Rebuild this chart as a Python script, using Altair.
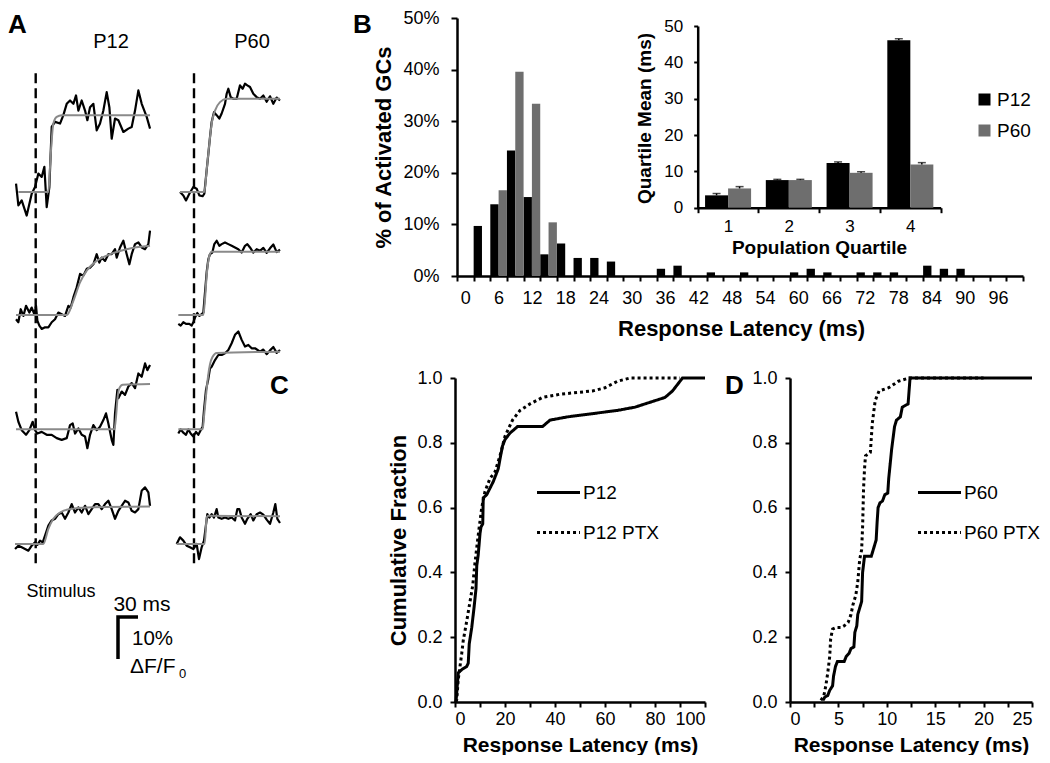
import altair as alt
import pandas as pd

FONT = "Liberation Sans"

# ---------------- Panel A: example traces (t = ms after stimulus, v = % dF/F0 above baseline) ----------------
p12_r1_t = [-29.5,-26,-21,-13.5,-6,-1,4,9,13,16.5,20.5,24,29,36.5,41.5,46.5,51.5,56.5,60.5,64,69,74,77.5,81.5,86.5,91.5,96.5,101.5,106.5,110.5,114,119,124,131.5,139,144,149,154,159,166.5,171.5]
p12_r1_v = [2.0,-3.2,-2.0,-5.6,-0.4,1.2,4.4,3.6,6.0,-3.6,1.2,15.5,16.7,16.3,18.3,21.0,21.8,21.0,23.0,19.4,21.8,19.4,17.1,20.2,21.0,14.7,16.3,19.4,23.8,20.2,12.7,17.5,17.1,14.3,15.1,15.5,19.4,24.2,21.0,17.9,15.1]
p12_r1_fit_t = [-26,19,21.5,24,26.5,31.5,39,171.5]
p12_r1_fit_v = [0,0,6.0,12.3,16.3,17.9,18.3,18.3]

p12_r2_t = [-29.5,-26,-22.5,-18.5,-14.5,-9.5,-6,-2,0.5,2.5,5.5,9,14,19,24,29,34,39,44,49,52.5,56.5,61.5,66.5,71.5,76.5,81.5,86.5,91.5,95.5,99,104,109,114,119,121.5,126.5,131.5,136.5,140.5,144,149,154,159,164,169,171.5]
p12_r2_v = [-1.0,-1.7,1.4,-0.2,2.2,0.6,1.8,0.2,2.2,-1.3,-2.5,-3.3,-2.9,-2.9,-1.7,-1.0,0.6,0.2,-0.2,2.2,1.8,4.2,6.6,9.8,9.4,11.0,11.3,12.1,14.5,12.5,13.7,12.9,14.5,14.5,15.7,13.7,16.1,17.7,14.5,12.1,14.5,16.9,17.3,16.1,15.7,16.9,20.1]
p12_r2_fit_t = [-29.5,46.5,56.5,66.5,76.5,91.5,111.5,136.5,171.5]
p12_r2_fit_v = [0,0,3.4,7.8,10.6,12.9,14.5,15.7,16.5]

p12_r3_t = [-29.5,-26,-21,-14.5,-9.5,-4.5,-1,2.5,9,16.5,24,31.5,39,46.5,51.5,55.5,59,64,69,74,77.5,81.5,86.5,91.5,96.5,101.5,105.5,109,114,116.5,119,122.5,124,129,134,139,144,149,154,159,164,167.5,171.5]
p12_r3_v = [4.2,1.8,-0.2,-1.3,-0.2,1.8,-0.2,-1.0,-0.6,-1.3,-1.3,-2.1,-2.5,-2.1,1.0,1.4,-1.0,0.2,-1.3,-1.7,-4.5,-1.3,1.0,-0.2,0.6,2.2,3.8,1.4,-2.5,-3.7,3.8,9.4,7.4,9.0,8.2,10.2,11.0,9.8,13.3,12.5,15.7,14.1,15.3]
p12_r3_fit_t = [-29.5,118,120.5,122.5,125.5,130.5,171.5]
p12_r3_fit_v = [0,0,3.0,7.0,9.8,10.6,10.8]

p12_r4_t = [-31,-26,-21,-16,-11,-6,-1,2.5,6.5,10.5,14,19,24,29,34,39,44,49,54,59,64,69,74,79,84,89,94,99,104,109,114,119,124,129,134,139,144,149,154,159,164,169,171.5]
p12_r4_v = [-1.2,-0.4,-0.8,-1.2,-1.6,-0.4,0.4,-0.2,0.8,0.4,2.0,4.4,5.6,6.0,7.1,7.5,6.0,7.5,9.5,7.5,8.7,7.5,9.1,7.1,8.3,9.5,9.5,8.3,9.5,10.3,8.3,6.0,7.9,9.1,10.3,9.9,7.9,7.5,8.3,12.7,13.5,12.3,9.1]
p12_r4_fit_t = [-31,11.5,19,26.5,36.5,51.5,76.5,171.5]
p12_r4_fit_v = [0,0,3.6,6.0,7.5,8.3,8.7,8.9]

p60_r1_t = [-21,-16,-12,-7,-1,4,8,13,15.5,19,21.5,24,26.5,30,34,38,41.5,46.5,49,51.5,55,59,64,66.5,69,73,76.5,80,84,89,94,99,104,109,114,119,124,129]
p60_r1_v = [0,-0.8,-2.0,-0.4,1.2,0.8,-0.8,-1.0,-0.4,5.2,9.1,13.1,16.7,19.0,18.3,17.5,18.7,21.0,23.4,24.6,22.6,22.2,22.2,23.8,25.4,24.6,25.8,25.4,25.0,23.4,22.6,22.2,23.0,21.5,22.8,21.0,22.5,21.8]
p60_r1_fit_t = [-21,15.5,19,23,26.5,31.5,39,49,129]
p60_r1_fit_v = [0,0,5.2,11.5,16.3,19.4,21.4,22.2,22.2]

p60_r2_t = [-23.5,-20,-16,-12,-7,-3.5,-1,1.5,5,8,11.5,14,16.5,19,21.5,24,27.5,30.5,34,38,41.5,46.5,51.5,56.5,61.5,66.5,71.5,76.5,80,84,89,94,99,104,109,114,119,124,129]
p60_r2_v = [-2.1,-2.5,-1.7,-2.1,-2.1,-2.5,-1.7,-0.6,0.5,-0.2,0.2,0.6,5.4,10.2,13.3,14.5,14.9,16.9,17.7,16.5,16.9,17.3,16.9,16.5,16.1,15.7,14.9,16.5,16.9,16.1,14.9,15.7,15.3,16.0,14.8,15.9,16.8,15.0,15.6]
p60_r2_fit_t = [-23.5,14,16.5,19,23,26.5,129]
p60_r2_fit_v = [0,0,3.8,9.4,14.1,15.1,15.1]

p60_r3_t = [-23.5,-20,-16,-12,-8.5,-5,-1,3,6.5,10,13,15,18,21.5,24,26.5,31.5,36.5,41.5,46.5,51.5,56.5,61.5,66.5,71.5,76.5,81.5,86.5,91.5,99,104,109,114,119,124,129]
p60_r3_v = [-1.0,0,-0.8,-1.3,0,-1.0,-1.7,-0.6,-1.3,-0.2,0.6,4.6,9.4,12.0,14.5,14.9,16.5,17.7,17.7,18.1,18.9,20.5,22.5,23.3,21.3,19.7,20.1,19.3,19.3,18.5,19.0,17.9,18.8,19.6,18.2,18.9]
p60_r3_fit_t = [-23.5,13,15,18,21,24,28,34,129]
p60_r3_fit_v = [0,0,3,8,12.5,15.5,17.3,18.2,18.5]

p60_r4_t = [-26,-21,-16,-11,-6,-1,4,7.5,11.5,15,20,23,26.5,30,34,36.5,41.5,46.5,51.5,56.5,61.5,65,68,71.5,76.5,80,85,89,94,99,104,109,114,119,122,125,129]
p60_r4_v = [0,1.6,0.8,-0.4,-0.8,-1.2,0,-3.6,-0.8,0.8,7.1,6.3,7.1,6.3,8.3,6.3,6.0,6.3,6.0,6.3,5.6,8.3,8.3,6.3,4.8,6.0,7.1,5.6,7.1,7.5,7.0,5.8,4.8,7.5,9.5,6.0,5.0]
p60_r4_fit_t = [-26,16,19,21.5,129]
p60_r4_fit_v = [0,0,6.3,6.7,6.6]

# scale bar: 30 ms by 10 % dF/F0
bar_ms = 30
bar_pct = 10

# ---------------- Panel B: latency histogram (% of activated GCs per 3 ms bin) ----------------
bin_start = list(range(0, 102, 3))
p12_hist = [0, 9.7, 13.9, 24.3, 15.3, 4.2, 6.3, 3.5, 3.5, 2.8, 0, 0, 1.4, 2.0, 0, 0.7, 0, 0.7,
            0, 0, 0.7, 1.4, 0.7, 0, 0.7, 0.7, 0.7, 0, 2.0, 1.4, 1.4, 0, 0, 0]
p60_hist = [0, 0, 16.6, 39.6, 33.4, 10.4] + [0] * 28

# inset: quartile means
quartiles = ["1", "2", "3", "4"]
p12_qmean = [3.4, 7.6, 12.3, 46.1]
p12_qsem = [0.5, 0.2, 0.3, 0.4]
p60_qmean = [5.3, 7.6, 9.6, 11.9]
p60_qsem = [0.5, 0.2, 0.3, 0.5]

# ---------------- Panel C / D: cumulative fractions ----------------
c_p12_ms = [0.0, 0.4, 1.0, 1.3, 2.7, 4.7, 5.3, 5.7, 6.7, 7.6, 8.4, 8.7, 9.3, 10.0, 10.4, 11.1, 11.3, 12.7, 14.0, 15.3, 17.3,
            18, 19, 20, 22, 25, 35, 38, 45, 55, 65, 72, 76, 80, 84, 87, 89, 91, 100]
c_p12_frac = [0.0, 0.0, 0.06, 0.09, 0.10, 0.11, 0.12, 0.18, 0.23, 0.29, 0.35, 0.42, 0.455, 0.52, 0.54, 0.55, 0.63, 0.64, 0.66, 0.68, 0.72,
              0.75, 0.79, 0.81, 0.83, 0.85, 0.85, 0.87, 0.88, 0.89, 0.90, 0.91, 0.92, 0.93, 0.94, 0.96, 0.98, 1.0, 1.0]
c_ptx_ms = [0.3, 0.7, 1.3, 2.0, 2.7, 3.3, 4.0, 4.7, 6.0, 7.1, 8.0, 8.9, 9.7, 10.7, 12.0, 14.0, 16.0,
            18, 20, 23, 26, 30, 35, 42, 55, 60, 65, 70, 90]
c_ptx_frac = [0.0, 0.007, 0.07, 0.11, 0.15, 0.19, 0.22, 0.25, 0.31, 0.36, 0.43, 0.49, 0.54, 0.60, 0.65, 0.69, 0.71,
              0.76, 0.82, 0.87, 0.90, 0.92, 0.94, 0.95, 0.96, 0.97, 0.99, 1.0, 1.0]

d_p60_ms = [3.4, 3.6, 3.9, 4.1, 4.4, 4.5, 4.7, 4.9, 5.6, 5.8, 6.1, 6.3, 6.6, 6.7, 6.9, 7.0, 7.2, 7.4, 7.5, 7.7,
            8.4, 8.7, 8.9, 9.0, 9.1, 9.3, 9.55, 9.8, 10.1, 10.2, 10.3, 10.5, 10.8, 11.0, 11.4, 11.6, 12.2, 12.4, 25]
d_p60_frac = [0.005, 0.015, 0.02, 0.036, 0.05, 0.08, 0.11, 0.125, 0.125, 0.14, 0.15, 0.165, 0.17, 0.215, 0.235, 0.27, 0.29, 0.31, 0.40, 0.45,
              0.45, 0.48, 0.50, 0.555, 0.60, 0.615, 0.62, 0.64, 0.645, 0.69, 0.72, 0.78, 0.85, 0.87, 0.88, 0.91, 0.92, 1.0, 1.0]
d_ptx_ms = [3.2, 3.5, 3.7, 3.9, 4.1, 4.2, 4.4, 4.8, 5.3, 5.6, 6.0, 6.3, 6.5, 6.8, 7.0, 7.2, 7.4, 7.5, 7.6, 7.7,
            7.8, 8.3, 8.5, 8.8, 9.2, 10.2, 11.2, 12.3, 20]
d_ptx_frac = [0.005, 0.02, 0.05, 0.09, 0.14, 0.195, 0.225, 0.23, 0.23, 0.235, 0.245, 0.27, 0.30, 0.33, 0.37, 0.44, 0.47, 0.54, 0.66, 0.72,
              0.76, 0.77, 0.86, 0.93, 0.96, 0.97, 0.99, 1.0, 1.0]

# ======================= layout (canvas pixels) =======================
W, H = 1034, 747

# panel A scales: ms horizontally, % vertically
A_X = alt.Scale(domain=[-41.55, 393.45], range=[0, 290], nice=False, zero=False)
A_Y = alt.Scale(domain=[-50.24, 127.62], range=[H, 0], nice=False, zero=False)
A_COL_SHIFT = {"P12": 0.0, "P60": 237.45}
A_ROW_SHIFT = [83.8, 54.5, 27.3, 0.0]

trace_sets = [
    ("P12", 0, p12_r1_t, p12_r1_v, p12_r1_fit_t, p12_r1_fit_v),
    ("P12", 1, p12_r2_t, p12_r2_v, p12_r2_fit_t, p12_r2_fit_v),
    ("P12", 2, p12_r3_t, p12_r3_v, p12_r3_fit_t, p12_r3_fit_v),
    ("P12", 3, p12_r4_t, p12_r4_v, p12_r4_fit_t, p12_r4_fit_v),
    ("P60", 0, p60_r1_t, p60_r1_v, p60_r1_fit_t, p60_r1_fit_v),
    ("P60", 1, p60_r2_t, p60_r2_v, p60_r2_fit_t, p60_r2_fit_v),
    ("P60", 2, p60_r3_t, p60_r3_v, p60_r3_fit_t, p60_r3_fit_v),
    ("P60", 3, p60_r4_t, p60_r4_v, p60_r4_fit_t, p60_r4_fit_v),
]
rows = []
for col, r, tt, vv, ft, fv in trace_sets:
    for kind, ts, vs in (("trace", tt, vv), ("fit", ft, fv)):
        for i, (t, v) in enumerate(zip(ts, vs)):
            rows.append(dict(sid=f"{col}-{r}-{kind}", kind=kind, i=i,
                             X=t + A_COL_SHIFT[col], Y=v + A_ROW_SHIFT[r]))
dfA = pd.DataFrame(rows)

tracesA = alt.Chart(dfA).transform_filter("datum.kind == 'trace'").mark_line(
    color="black", strokeWidth=2.2, strokeJoin="round").encode(
    x=alt.X("X:Q", scale=A_X, axis=None), y=alt.Y("Y:Q", scale=A_Y, axis=None),
    detail="sid:N", order="i:Q")
fitsA = alt.Chart(dfA).transform_filter("datum.kind == 'fit'").mark_line(
    color="#8a8a8a", strokeWidth=2, interpolate="monotone").encode(
    x=alt.X("X:Q", scale=A_X, axis=None), y=alt.Y("Y:Q", scale=A_Y, axis=None),
    detail="sid:N", order="i:Q")

dfStim = pd.DataFrame({"X": [0.0 + A_COL_SHIFT["P12"], 0.0 + A_COL_SHIFT["P60"]],
                       "y0": [112.1, 112.1], "y1": [-5.5, -5.5]})
stimA = alt.Chart(dfStim).mark_rule(color="black", strokeWidth=2.4, strokeDash=[10, 5]).encode(
    x=alt.X("X:Q", scale=A_X, axis=None), y=alt.Y("y0:Q", scale=A_Y, axis=None), y2="y1:Q")

bar_t0, bar_v0 = 123.45, -17.38
dfBar = pd.DataFrame({"X": [bar_t0 + bar_ms, bar_t0, bar_t0],
                      "Y": [bar_v0, bar_v0, bar_v0 - bar_pct], "i": [0, 1, 2]})
scalebarA = alt.Chart(dfBar).mark_line(color="black", strokeWidth=3.5, strokeJoin="miter").encode(
    x=alt.X("X:Q", scale=A_X, axis=None), y=alt.Y("Y:Q", scale=A_Y, axis=None), order="i:Q")

# ---------------- B histogram ----------------
group_scale = alt.Scale(domain=["P12", "P60"], range=["#000000", "#6e6e6e"])
dfB = pd.DataFrame({"bin": bin_start * 2, "group": ["P12"] * len(bin_start) + ["P60"] * len(bin_start),
                    "pct": p12_hist + p60_hist})
B_AX_Y = 268
barsB = alt.Chart(dfB).mark_bar().encode(
    x=alt.X("bin:O", scale=alt.Scale(domain=bin_start, range=[449, 1015], paddingInner=0, paddingOuter=0),
            axis=alt.Axis(orient="bottom", offset=B_AX_Y - H, tickBand="extent", labelAngle=0,
                          labelExpr="datum.value % 6 == 0 ? datum.label : ''", labelOverlap=False,
                          tickSize=5, labelPadding=8, labelFontSize=18,
                          title="Response Latency (ms)", titleFontSize=22, titleX=733, titleY=52,
                          titleBaseline="middle", titleAlign="center")),
    xOffset=alt.XOffset("group:N", scale=alt.Scale(domain=["P12", "P60"], paddingInner=0, paddingOuter=0)),
    y=alt.Y("pct:Q", scale=alt.Scale(domain=[0, 50], range=[B_AX_Y, 10], nice=False),
            axis=alt.Axis(orient="left", offset=-449, values=[0, 10, 20, 30, 40, 50],
                          labelExpr="datum.value + '%'", tickSize=6, labelPadding=12, labelFontSize=18,
                          title="% of Activated GCs", titleFontSize=22, titleX=-74, titleY=139,
                          titleAngle=-90, titleBaseline="middle", titleAlign="center")),
    color=alt.Color("group:N", scale=group_scale, legend=None),
)

# ---------------- inset ----------------
dfI = pd.DataFrame({"q": quartiles * 2, "group": ["P12"] * 4 + ["P60"] * 4,
                    "mean": p12_qmean + p60_qmean, "sem": p12_qsem + p60_qsem})
I_AX_Y = 199.7
I_X = alt.Scale(domain=quartiles, range=[689.7, 932.7], paddingInner=0, paddingOuter=0)
I_XO = alt.Scale(domain=["P12", "P60"], paddingInner=0, paddingOuter=0.32)
I_Y = alt.Scale(domain=[0, 50], range=[I_AX_Y, 18], nice=False)
insetBars = alt.Chart(dfI).mark_bar().encode(
    x=alt.X("q:O", scale=I_X,
            axis=alt.Axis(orient="bottom", offset=I_AX_Y - H, tickBand="extent", labelAngle=0,
                          tickSize=5, labelPadding=6, labelFontSize=17,
                          title="Population Quartile", titleFontSize=19, titleX=811, titleY=40,
                          titleBaseline="middle", titleAlign="center")),
    xOffset=alt.XOffset("group:N", scale=I_XO),
    y=alt.Y("mean:Q", scale=I_Y,
            axis=alt.Axis(orient="left", offset=-689.7, values=[0, 10, 20, 30, 40, 50],
                          tickSize=4, labelPadding=11, labelFontSize=17,
                          title="Quartile Mean (ms)", titleFontSize=19, titleX=-53, titleY=110,
                          titleAngle=-90, titleBaseline="middle", titleAlign="center")),
    color=alt.Color("group:N", scale=group_scale,
                    legend=alt.Legend(orient="none", legendX=967, legendY=82, title=None,
                                      symbolType="square", symbolSize=144, symbolStrokeWidth=0,
                                      labelFontSize=19, labelOffset=3, rowPadding=11, padding=0)),
)
insetErr = alt.Chart(dfI).transform_calculate(top="datum.mean + datum.sem").mark_rule(
    color="black", strokeWidth=1.5).encode(
    x=alt.X("q:O", scale=I_X, axis=None), xOffset=alt.XOffset("group:N", scale=I_XO),
    y=alt.Y("mean:Q", scale=I_Y, axis=None), y2="top:Q")
insetCap = alt.Chart(dfI).transform_calculate(top="datum.mean + datum.sem").mark_tick(
    color="black", size=8, thickness=1.5).encode(
    x=alt.X("q:O", scale=I_X, axis=None), xOffset=alt.XOffset("group:N", scale=I_XO),
    y=alt.Y("top:Q", scale=I_Y, axis=None))

# ---------------- C & D cumulative ----------------
CD_AX_Y = 694
CD_Y = alt.Scale(domain=[0, 1], range=[CD_AX_Y, 370], nice=False)


def cdf_panel(ms1, fr1, ms2, fr2, names, x0, x1, xmax, tick_step, label_step, ytitle, legx, titlex):
    df = pd.DataFrame({"ms": ms1 + ms2, "frac": fr1 + fr2,
                       "group": [names[0]] * len(ms1) + [names[1]] * len(ms2),
                       "i": list(range(len(ms1))) + list(range(len(ms2)))})
    n = int(round(xmax / tick_step))
    vals = [round(k * tick_step, 3) for k in range(n + 1)]
    yaxis = alt.Axis(orient="left", offset=-x0, values=[0, 0.2, 0.4, 0.6, 0.8, 1.0], format=".1f",
                     tickSize=5, labelPadding=8, labelFontSize=18,
                     title=ytitle, titleFontSize=22, titleX=-57, titleY=532, titleAngle=-90,
                     titleBaseline="middle", titleAlign="center")
    return alt.Chart(df).mark_line(color="black", strokeWidth=3).encode(
        x=alt.X("ms:Q", scale=alt.Scale(domain=[0, xmax], range=[x0, x1], nice=False, zero=False),
                axis=alt.Axis(orient="bottom", offset=CD_AX_Y - H, values=vals, format="d",
                              labelExpr=f"datum.value % {label_step} == 0 ? datum.label : ''",
                              labelOverlap=False, tickSize=5, labelPadding=3, labelFontSize=18,
                              title="Response Latency (ms)", titleFontSize=21, titleX=titlex,
                              titleY=743 - CD_AX_Y,
                              titleBaseline="alphabetic", titleAlign="center")),
        y=alt.Y("frac:Q", scale=CD_Y, axis=yaxis),
        strokeDash=alt.StrokeDash("group:N", scale=alt.Scale(domain=names, range=[[1, 0], [3, 3]]),
                                  legend=alt.Legend(orient="none", legendX=legx, legendY=475, title=None,
                                                    symbolType="M-3,0H3", symbolSize=205,
                                                    symbolStrokeWidth=3, symbolStrokeColor="black",
                                                    symbolFillColor="transparent",
                                                    labelFontSize=19, labelOffset=15, rowPadding=20,
                                                    padding=0)),
        order="i:Q",
    )


panelC = cdf_panel(c_p12_ms, c_p12_frac, c_ptx_ms, c_ptx_frac, ["P12", "P12 PTX"],
                   447, 697, 100, 10, 20, "Cumulative Fraction", 541, 572)
panelD = cdf_panel(d_p60_ms, d_p60_frac, d_ptx_ms, d_ptx_frac, ["P60", "P60 PTX"],
                   782, 1024, 25, 2.5, 5, None, 922, 903)


# ---------------- text annotations ----------------
def txt(s, x, y, size, weight="normal", align="left", baseline="top"):
    return alt.Chart(pd.DataFrame({"s": [s]})).mark_text(
        align=align, baseline=baseline, fontSize=size, fontWeight=weight, color="black").encode(
        x=alt.value(x), y=alt.value(y), text="s:N")


texts = [
    txt("A", 0, 17, 26, "bold", baseline="middle"),
    txt("B", 345, 17, 26, "bold", baseline="middle"),
    txt("C", 262, 378, 26, "bold", baseline="middle"),
    txt("D", 717, 378, 26, "bold", baseline="middle"),
    txt("P12", 103, 34, 20, align="center", baseline="middle"),
    txt("P60", 244, 34, 20, align="center", baseline="middle"),
    txt("Stimulus", 53, 584, 18, align="center", baseline="middle"),
    txt("30 ms", 134, 597, 21, align="center", baseline="middle"),
    txt("10%", 124, 631, 20.5, baseline="middle"),
    txt("\u0394F/F", 122, 659, 21, baseline="middle"),
    txt("0", 171, 666, 13, baseline="middle"),
]

chart = alt.layer(
    stimA, tracesA, fitsA, scalebarA,
    barsB, insetBars, insetErr, insetCap,
    panelC, panelD, *texts
).resolve_scale(
    x="independent", y="independent", color="independent", strokeDash="independent",
    xOffset="independent"
).properties(
    width=W, height=H, padding=0, background="white",
    autosize=alt.AutoSizeParams(type="none")
).configure(font=FONT).configure_view(stroke=None).configure_axis(
    grid=False, domainColor="black", domainWidth=2.5, tickColor="black", tickWidth=2,
    labelColor="black", titleColor="black", titleFontWeight="bold", labelFont=FONT, titleFont=FONT
).configure_legend(labelColor="black", labelFont=FONT)

chart.save("out.html", embed_options={"renderer": "svg", "actions": False})
